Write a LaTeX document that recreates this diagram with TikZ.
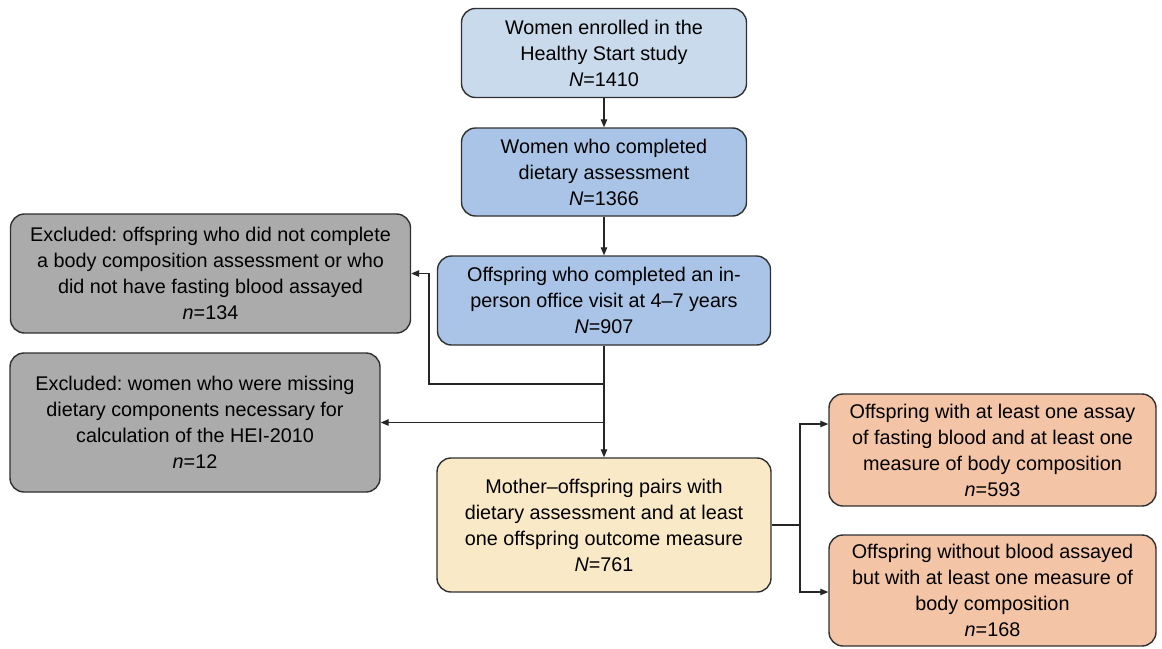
\documentclass[tikz,border=0pt]{standalone}
\usepackage{fontspec}
\setmainfont{Liberation Sans}
\frenchspacing
\usetikzlibrary{arrows.meta}
\definecolor{lblue}{HTML}{C9DAEC}
\definecolor{mblue}{HTML}{A9C4E6}
\definecolor{gbox}{HTML}{ABABAB}
\definecolor{beige}{HTML}{F9E9C7}
\definecolor{salmon}{HTML}{F3C4A6}
\definecolor{edge}{HTML}{303030}
\begin{document}
\begin{tikzpicture}[x=1pt,y=-1pt,
  box/.style={draw=edge, line width=1.4pt, rounded corners=14pt, align=center,
    inner sep=0pt, font=\fontsize{19.8}{26}\selectfont\frenchspacing},
  conn/.style={line width=1.2pt, draw=black!85, -{Triangle[length=8pt,width=6.5pt]}},
  plain/.style={line width=1.2pt, draw=black!85}]
\useasboundingbox (0,0) rectangle (1162,648);
\fill[white] (0,0) rectangle (1162,648);
\node[box, fill=lblue, minimum width=285pt, minimum height=89pt] (b1) at (604,53)
  {Women enrolled in the\\Healthy Start study\\\textit{N}=1410};
\node[box, fill=mblue, minimum width=285pt, minimum height=88pt] (b2) at (604,172)
  {Women who completed\\dietary assessment\\\textit{N}=1366};
\node[box, fill=mblue, minimum width=333pt, minimum height=89pt] (b3) at (604,300.5)
  {Offspring who completed an in-\\person office visit at 4–7 years\\\textit{N}=907};
\node[box, fill=gbox, minimum width=400pt, minimum height=119pt] (ex1) at (210.5,273.5)
  {Excluded: offspring who did not complete\\a body composition assessment or who\\did not have fasting blood assayed\\\textit{n}=134};
\node[box, fill=gbox, minimum width=370pt, minimum height=139pt] (ex2) at (195,422.5)
  {Excluded: women who were missing\\dietary components necessary for\\calculation of the HEI-2010\\\textit{n}=12};
\node[box, fill=beige, minimum width=334pt, minimum height=134pt] (m) at (604,525)
  {Mother–offspring pairs with\\dietary assessment and at least\\one offspring outcome measure\\\textit{N}=761};
\node[box, fill=salmon, minimum width=327pt, minimum height=112pt] (r1) at (992.5,450)
  {Offspring with at least one assay\\of fasting blood and at least one\\measure of body composition\\\textit{n}=593};
\node[box, fill=salmon, minimum width=327pt, minimum height=111pt] (r2) at (992.5,590.5)
  {Offspring without blood assayed\\but with at least one measure of\\body composition\\\textit{n}=168};
\coordinate (j1) at (604,384);
\coordinate (k1) at (429,384);
\coordinate (j2) at (604,422.5);
\coordinate (br) at (800,525);
\draw[conn] (b1) -- (b2);
\draw[conn] (b2) -- (b3);
\draw[conn] (b3) -- (m);
\draw[conn] (j1) -- (k1) |- (ex1.east);
\draw[conn] (j2) -- (ex2.east);
\draw[plain] (m.east) -- (br);
\draw[conn] (br) |- ([yshift=26pt]r1.west);
\draw[conn] (br) |- ([yshift=-1.5pt]r2.west);
\end{tikzpicture}
\end{document}
